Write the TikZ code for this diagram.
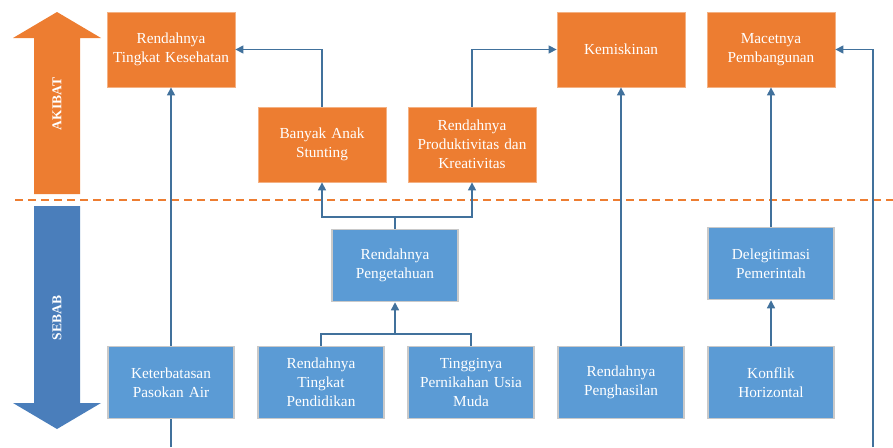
\documentclass[tikz,border=0pt]{standalone}
\usepackage{fontspec}
\setmainfont{Liberation Serif}
\usetikzlibrary{arrows.meta}
\definecolor{orfill}{HTML}{ED7D31}
\definecolor{oredge}{HTML}{F4B183}
\definecolor{blfill}{HTML}{5B9BD5}
\definecolor{bledge}{HTML}{C9C9C9}
\definecolor{conncol}{HTML}{41719C}
\definecolor{sebabcol}{HTML}{4A7EBB}
\tikzset{
  obox/.style={fill=orfill, draw=oredge, line width=0.8pt, minimum width=128pt, minimum height=75pt, inner sep=0pt, text width=126pt, align=center, text=white, font=\fontsize{15.3}{18.8}\selectfont},
  bbox/.style={fill=blfill, draw=bledge, line width=1.5pt, minimum width=126pt, minimum height=72pt, inner sep=0pt, text width=124pt, align=center, text=white, font=\fontsize{15.3}{18.8}\selectfont},
  conn/.style={draw=conncol, line width=1.3pt},
  arr/.style={conn, -{Triangle[length=8pt, width=8pt]}},
  sidelabel/.style={text=white, font=\bfseries\fontsize{13.5}{15}\selectfont, rotate=90}
}
\begin{document}
\begin{tikzpicture}[x=1pt, y=-1pt]
\useasboundingbox (0,0) rectangle (893,447);
% side arrows
\fill[orfill] (34,194) -- (34,38) -- (13,38) -- (57,12) -- (101,38) -- (80,38) -- (80,194) -- cycle;
\node[sidelabel] (akibat) at (57,104) {AKIBAT};
\fill[sebabcol] (34,206) -- (34,403) -- (13,403) -- (57,429) -- (101,403) -- (80,403) -- (80,206) -- cycle;
\node[sidelabel] (sebab) at (57,318) {SEBAB};
% dashed separator
\coordinate (dl) at (15,200);
\coordinate (dr) at (893,200);
\draw[orfill, line width=1.2pt, dash pattern=on 8pt off 5pt] (dl) -- (dr);
% coordinates
\coordinate (botA) at (171,447);
\coordinate (botR) at (873,447);
\coordinate (j1) at (395,217);
\coordinate (j2) at (395,334);
% connectors (drawn before nodes)
\draw[conn] (botA) -- (171,380);
% nodes
\node[obox] (kes) at (171,49.5) {Rendahnya\\Tingkat Kesehatan};
\node[obox] (kem) at (621,49.5) {Kemiskinan};
\node[obox] (mac) at (771,49.5) {Macetnya\\Pembangunan};
\node[obox] (stunt) at (322,144.5) {Banyak Anak\\Stunting};
\node[obox] (prod) at (472,144.5) {Rendahnya\\Produktivitas dan\\Kreativitas};
\node[bbox] (peng) at (395,265.5) {Rendahnya\\Pengetahuan};
\node[bbox] (deleg) at (771,263.5) {Delegitimasi\\Pemerintah};
\node[bbox] (air) at (171,382.5) {Keterbatasan\\Pasokan Air};
\node[bbox] (pend) at (321,382.5) {Rendahnya\\Tingkat\\Pendidikan};
\node[bbox] (ting) at (471,382.5) {Tingginya\\Pernikahan Usia\\Muda};
\node[bbox] (hasil) at (621,382.5) {Rendahnya\\Penghasilan};
\node[bbox] (konf) at (771,382.5) {Konflik\\Horizontal};
% connectors
\draw[arr] (air.north) -- (kes.south);
\draw[arr] (stunt.north) |- (kes.east);
\draw[arr] (prod.north) |- (kem.west);
\draw[conn] (peng.north) -- (j1);
\draw[arr] (j1) -| (stunt.south);
\draw[arr] (j1) -| (prod.south);
\draw[conn] (pend.north) |- (j2);
\draw[conn] (ting.north) |- (j2);
\draw[arr] (j2) -- (peng.south);
\draw[arr] (hasil.north) -- (kem.south);
\draw[arr] (konf.north) -- (deleg.south);
\draw[arr] (deleg.north) -- (mac.south);
\draw[arr] (botR) |- (mac.east);
\end{tikzpicture}
\end{document}
